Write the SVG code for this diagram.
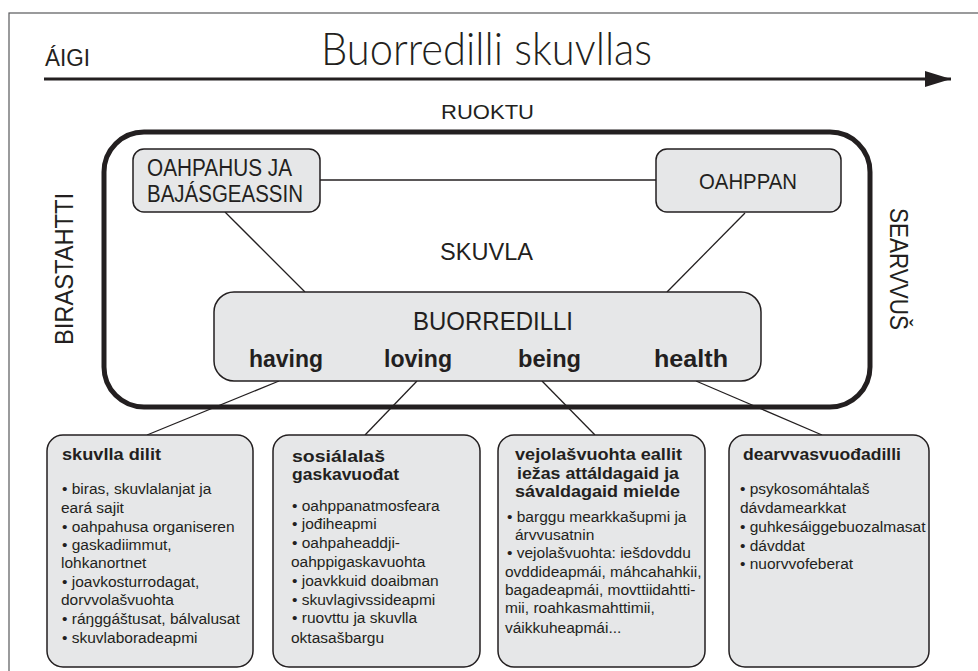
<svg xmlns="http://www.w3.org/2000/svg" width="978" height="671" viewBox="0 0 978 671">
<style>
text{font-family:"Liberation Sans",Arial,sans-serif;fill:#231f20}
.cap{font-size:23px}
.hd{font-size:16.5px;font-weight:bold}
.bd{font-size:15.5px}
.dim{font-size:23px;font-weight:bold}
.box{fill:#e6e7e8;stroke:#231f20;stroke-width:1.5}
.con line{stroke:#231f20;stroke-width:1.3}
</style>
<defs>
<marker id="ah" markerWidth="26" markerHeight="16" refX="26" refY="8" orient="auto" markerUnits="userSpaceOnUse">
<path d="M0,0 L26,8 L0,16 Z" fill="#231f20"/>
</marker>
</defs>
<rect x="0" y="0" width="978" height="671" fill="#fff"/>
<rect x="9" y="13" width="1000" height="700" fill="none" stroke="#58595b" stroke-width="1.2"/>
<g id="header">
<text x="45" y="66" font-size="23" textLength="45" lengthAdjust="spacingAndGlyphs">ÁIGI</text>
<text x="321" y="65" font-size="45" textLength="331" lengthAdjust="spacingAndGlyphs" style="font-family:Lato,'Liberation Sans',sans-serif;font-weight:300">Buorredilli skuvllas</text>
<line x1="44" y1="79" x2="951" y2="79" stroke="#231f20" stroke-width="3" marker-end="url(#ah)"/>
<text x="441" y="119" font-size="21" textLength="93" lengthAdjust="spacingAndGlyphs">RUOKTU</text>
<text transform="translate(73,269) rotate(-90)" font-size="26" text-anchor="middle" textLength="152" lengthAdjust="spacingAndGlyphs">BIRASTAHTTI</text>
<text transform="translate(890,269) rotate(90)" font-size="25" text-anchor="middle" textLength="122" lengthAdjust="spacingAndGlyphs">SEARVVUŠ</text>
</g>
<g class="con" id="connectors">
<line x1="320" y1="180" x2="656" y2="180"/>
<line x1="225" y1="212" x2="305" y2="292"/>
<line x1="745" y1="213" x2="667" y2="292"/>
<line x1="279" y1="381" x2="147" y2="435"/>
<line x1="417" y1="381" x2="365" y2="435"/>
<line x1="542" y1="381" x2="595" y2="435"/>
<line x1="696" y1="381" x2="822" y2="435"/>
</g>
<g id="skuvla">
<rect x="104" y="132" width="766" height="275" rx="40" fill="none" stroke="#231f20" stroke-width="5"/>
<text x="440" y="260" font-size="24" textLength="93" lengthAdjust="spacingAndGlyphs">SKUVLA</text>
</g>
<g id="oahpahus">
<rect x="133" y="149" width="187" height="63" rx="11" class="box"/>
<text x="147" y="176" class="cap" textLength="145" lengthAdjust="spacingAndGlyphs">OAHPAHUS JA</text>
<text x="147" y="202" class="cap" textLength="156" lengthAdjust="spacingAndGlyphs">BAJÁSGEASSIN</text>
</g>
<g id="oahppan">
<rect x="656" y="149" width="185" height="63" rx="11" class="box"/>
<text x="699" y="189" font-size="22" textLength="98" lengthAdjust="spacingAndGlyphs">OAHPPAN</text>
</g>
<g id="buorredilli">
<rect x="214" y="292" width="547" height="89" rx="20" class="box"/>
<text x="413" y="330" font-size="25" textLength="160" lengthAdjust="spacingAndGlyphs">BUORREDILLI</text>
<text x="249" y="367" class="dim" textLength="74" lengthAdjust="spacingAndGlyphs">having</text>
<text x="384" y="367" class="dim" textLength="68" lengthAdjust="spacingAndGlyphs">loving</text>
<text x="518" y="367" class="dim" textLength="63" lengthAdjust="spacingAndGlyphs">being</text>
<text x="654" y="367" class="dim" textLength="74" lengthAdjust="spacingAndGlyphs">health</text>
</g>
<g id="having">
<rect x="47" y="435" width="206" height="232" rx="16" class="box"/>
<text x="62" y="460" class="hd" textLength="99" lengthAdjust="spacingAndGlyphs">skuvlla dilit</text>
<text class="bd">
<tspan x="62" y="494">• biras, skuvlalanjat ja</tspan>
<tspan x="61" y="513">eará sajit</tspan>
<tspan x="62" y="532">• oahpahusa organiseren</tspan>
<tspan x="62" y="550">• gaskadiimmut,</tspan>
<tspan x="61" y="568">lohkanortnet</tspan>
<tspan x="62" y="587">• joavkosturrodagat,</tspan>
<tspan x="61" y="605">dorvvolašvuohta</tspan>
<tspan x="62" y="624">• ráŋggáštusat, bálvalusat</tspan>
<tspan x="62" y="643">• skuvlaboradeapmi</tspan>
</text>
</g>
<g id="loving">
<rect x="273" y="435" width="207" height="232" rx="16" class="box"/>
<text x="292" y="461.5" class="hd" textLength="93" lengthAdjust="spacingAndGlyphs">sosiálalaš</text>
<text x="292" y="480" class="hd" textLength="107" lengthAdjust="spacingAndGlyphs">gaskavuođat</text>
<text class="bd">
<tspan x="292" y="511">• oahppanatmosfeara</tspan>
<tspan x="292" y="529">• jođiheapmi</tspan>
<tspan x="292" y="548">• oahpaheaddji-</tspan>
<tspan x="291" y="567">oahppigaskavuohta</tspan>
<tspan x="292" y="586">• joavkkuid doaibman</tspan>
<tspan x="292" y="605">• skuvlagivssideapmi</tspan>
<tspan x="292" y="623">• ruovttu ja skuvlla</tspan>
<tspan x="291" y="643">oktasašbargu</tspan>
</text>
</g>
<g id="being">
<rect x="498" y="435" width="207" height="232" rx="16" class="box"/>
<text x="515" y="460" class="hd" textLength="167" lengthAdjust="spacingAndGlyphs">vejolašvuohta eallit</text>
<text x="517" y="478.5" class="hd" textLength="162" lengthAdjust="spacingAndGlyphs">iežas attáldagaid ja</text>
<text x="515" y="497" class="hd" textLength="165" lengthAdjust="spacingAndGlyphs">sávaldagaid mielde</text>
<text class="bd">
<tspan x="507" y="522">• barggu mearkkašupmi ja</tspan>
<tspan x="515" y="540">árvvusatnin</tspan>
<tspan x="507" y="558">• vejolašvuohta: iešdovddu</tspan>
<tspan x="505" y="577">ovddideapmái, máhcahahkii,</tspan>
<tspan x="505" y="595">bagadeapmái, movttiidahtti-</tspan>
<tspan x="505" y="613">mii, roahkasmahttimii,</tspan>
<tspan x="505" y="633">váikkuheapmái...</tspan>
</text>
</g>
<g id="health">
<rect x="729" y="435" width="200" height="232" rx="16" class="box"/>
<text x="743" y="460" class="hd" textLength="158" lengthAdjust="spacingAndGlyphs">dearvvasvuođadilli</text>
<text class="bd">
<tspan x="740" y="494">• psykosomáhtalaš</tspan>
<tspan x="740" y="513">dávdamearkkat</tspan>
<tspan x="740" y="532">• guhkesáiggebuozalmasat</tspan>
<tspan x="740" y="551">• dávddat</tspan>
<tspan x="740" y="569">• nuorvvofeberat</tspan>
</text>
</g>
</svg>
